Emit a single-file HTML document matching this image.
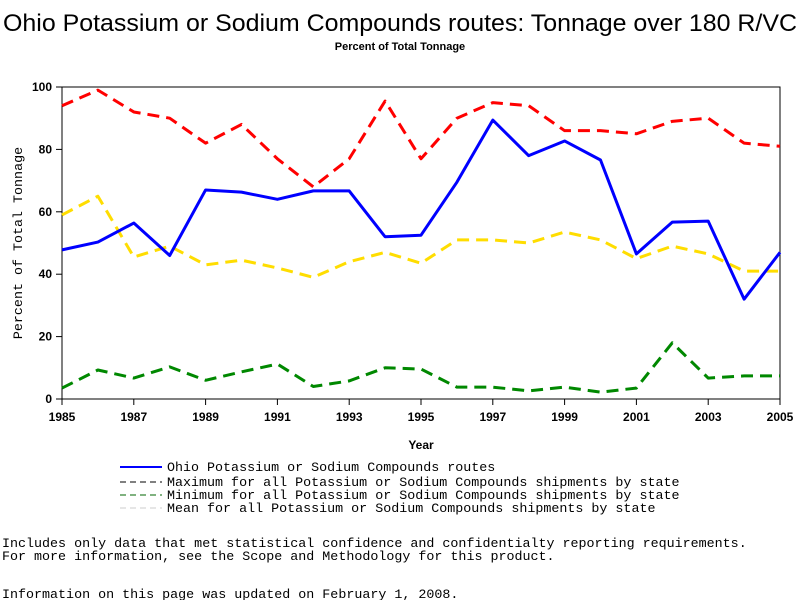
<!DOCTYPE html>
<html><head><meta charset="utf-8"><style>
body{margin:0;background:#fff;}
svg text{font-family:"Liberation Sans",sans-serif;}
.mono{font-family:"Liberation Mono",monospace;font-size:13.35px;}
</style></head><body>
<svg width="800" height="600" xmlns="http://www.w3.org/2000/svg">
<text x="400" y="31" font-size="24" text-anchor="middle" textLength="794" lengthAdjust="spacingAndGlyphs">Ohio Potassium or Sodium Compounds routes: Tonnage over 180 R/VC</text>
<text x="400" y="50" font-size="11" font-weight="bold" text-anchor="middle">Percent of Total Tonnage</text>
<rect x="62" y="87" width="718" height="312" fill="none" stroke="#000"/>
<g id="axes"></g>
<g id="series"></g>
<text x="421" y="449" font-size="12" font-weight="bold" text-anchor="middle">Year</text>
<text transform="translate(22,243) rotate(-90)" font-size="12" class="mono" text-anchor="middle">Percent of Total Tonnage</text>
<g>
<line x1="120" y1="467" x2="162" y2="467" stroke="#00f" stroke-width="2"/>
<text x="167" y="471" class="mono">Ohio Potassium or Sodium Compounds routes</text>
<line x1="120" y1="482" x2="162" y2="482" stroke="#000" stroke-dasharray="6,4"/>
<text x="167" y="486" class="mono">Maximum for all Potassium or Sodium Compounds shipments by state</text>
<line x1="120" y1="495" x2="162" y2="495" stroke="#060" stroke-dasharray="6,4"/>
<text x="167" y="499" class="mono">Minimum for all Potassium or Sodium Compounds shipments by state</text>
<line x1="120" y1="508" x2="162" y2="508" stroke="#ccc" stroke-dasharray="6,4"/>
<text x="167" y="512" class="mono">Mean for all Potassium or Sodium Compounds shipments by state</text>
</g>
<text x="2" y="547" class="mono">Includes only data that met statistical confidence and confidentialty reporting requirements.</text>
<text x="2" y="560" class="mono">For more information, see the Scope and Methodology for this product.</text>
<text x="2" y="598" class="mono">Information on this page was updated on February 1, 2008.</text>
</svg>
<script>
const years=[1985,1986,1987,1988,1989,1990,1991,1992,1993,1994,1995,1996,1997,1998,1999,2000,2001,2002,2003,2004,2005];
const ohio=[47.8,50.3,56.4,46,67,66.3,64,66.7,66.7,52,52.5,69.5,89.4,78,82.7,76.6,46.5,56.7,57,32,47];
const maxVals=[94,99,92,90,82,88,77,68,77,95.5,77,90,95,94,86,86,85,89,90,82,81];
const meanVals=[59,65,45.5,49,43,44.5,42,39,44,47,43.5,51,51,50,53.5,51,45,49,46.5,41,41];
const minVals=[3.5,9.3,6.7,10.3,6,8.7,11.2,4,5.8,10,9.6,3.8,3.8,2.6,3.8,2.2,3.5,18,6.7,7.4,7.4];
const xTicks=[1985,1987,1989,1991,1993,1995,1997,1999,2001,2003,2005];
const yTicks=[0,20,40,60,80,100];
const NS="http://www.w3.org/2000/svg";
const X=v=>62+(v-1985)*(718/20);
const Y=v=>399-v*3.12;
const axes=document.getElementById('axes');
function mk(tag,attrs,parent){const e=document.createElementNS(NS,tag);for(const k in attrs)e.setAttribute(k,attrs[k]);parent.appendChild(e);return e;}
xTicks.forEach(t=>{
 const l=mk('line',{x1:X(t),x2:X(t),y1:399,y2:405,stroke:'#000'},axes);
 
 
 const tx=mk('text',{x:X(t),y:421,'font-size':12,'font-weight':'bold','text-anchor':'middle'},axes);
 tx.textContent=t;
 
 
});
yTicks.forEach(t=>{
 const l=mk('line',{x1:56,x2:62,y1:Y(t),y2:Y(t),stroke:'#000'},axes);
 
 
 const tx=mk('text',{x:52,y:Y(t)+4,'font-size':12,'font-weight':'bold','text-anchor':'end'},axes);
 tx.textContent=t;
 
 
});
const ser=document.getElementById('series');
function line(vals,color,dash,name){
 const p=mk('polyline',{points:vals.map((v,i)=>X(years[i])+','+Y(v)).join(' '),fill:'none',stroke:color,'stroke-width':3,'stroke-dasharray':dash,'stroke-linejoin':'round'},ser);
 
 
}
line(maxVals,'#f00','12,7','max-line');
line(meanVals,'#fd0','12,7','mean-line');
line(minVals,'#080','12,7','min-line');
line(ohio,'#00f','none','ohio-line');
</script>
</body></html>
